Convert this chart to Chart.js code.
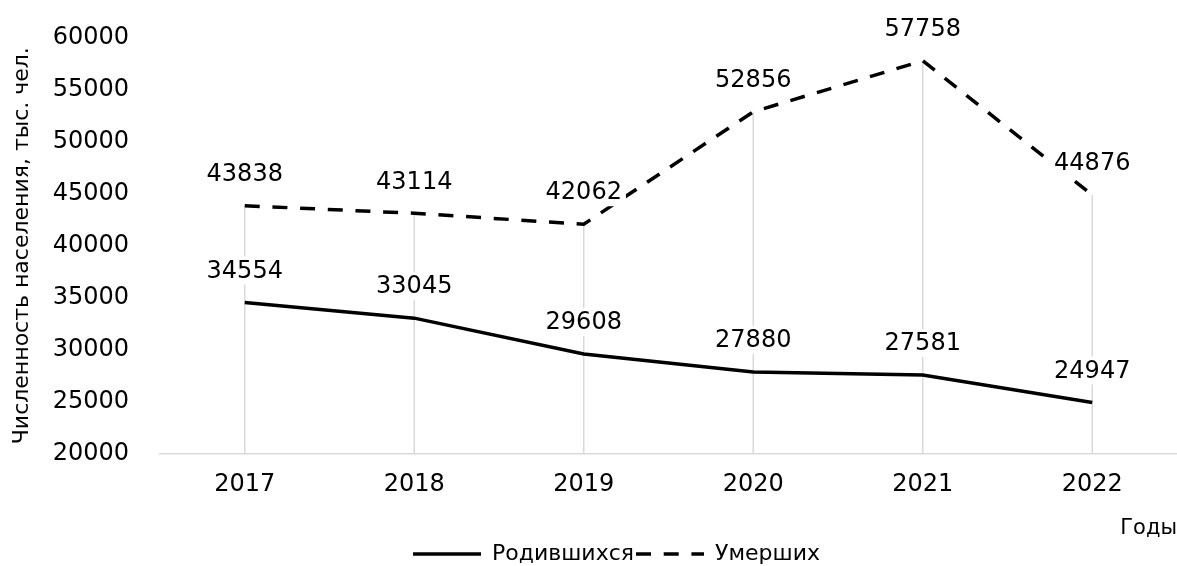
<!DOCTYPE html>
<html>
<head>
<meta charset="utf-8">
<script src="https://cdn.jsdelivr.net/npm/chart.js@4/dist/chart.umd.min.js"></script>
<style>
  html, body { margin: 0; padding: 0; background: #fff; }
  #wrap { width: 1177px; height: 566px; }
</style>
</head>
<body>
<div id="wrap"><canvas id="chartNaselenie"></canvas></div>
<script>
const YEARS = ['2017', '2018', '2019', '2020', '2021', '2022'];
const RODIVSHIHSYA = [34554, 33045, 29608, 27880, 27581, 24947];
const UMERSHIH = [43838, 43114, 42062, 52856, 57758, 44876];

const FONT = 'DejaVu Sans';
const DASH = [15, 12.7];

// вертикальные линии от оси до верхней точки
const dropLines = {
  id: 'dropLines',
  beforeDatasetsDraw(chart) {
    const ctx = chart.ctx;
    const x = chart.scales.x;
    const y = chart.scales.y;
    ctx.save();
    ctx.strokeStyle = '#d9d9d9';
    ctx.lineWidth = 1.5;
    YEARS.forEach((yr, i) => {
      const top = Math.max(RODIVSHIHSYA[i], UMERSHIH[i]);
      const px = x.getPixelForValue(i);
      ctx.beginPath();
      ctx.moveTo(px, y.getPixelForValue(top));
      ctx.lineTo(px, y.bottom);
      ctx.stroke();
    });
    ctx.restore();
  }
};

// подписи значений над точками
const valueLabels = {
  id: 'valueLabels',
  afterDatasetsDraw(chart) {
    const ctx = chart.ctx;
    ctx.save();
    ctx.font = '24px ' + FONT;
    ctx.textAlign = 'center';
    ctx.textBaseline = 'middle';
    chart.data.datasets.forEach((ds, di) => {
      const meta = chart.getDatasetMeta(di);
      meta.data.forEach((pt, i) => {
        const txt = String(ds.data[i]);
        const w = ctx.measureText(txt).width;
        const cy = pt.y - 32;
        ctx.fillStyle = '#fff';
        ctx.fillRect(pt.x - w / 2 - 4, cy - 14, w + 8, 28);
        ctx.fillStyle = '#000';
        ctx.fillText(txt, pt.x, cy + 1);
      });
    });
    ctx.restore();
  }
};

// легенда чуть правее и ниже, как в оригинале
const legendShift = {
  id: 'legendShift',
  afterLayout(chart) {
    chart.legend.left += 28;
    chart.legend.right += 28;
    chart.legend.top += 9;
    chart.legend.bottom += 9;
  }
};

new Chart(document.getElementById('chartNaselenie'), {
  type: 'line',
  data: {
    labels: YEARS,
    datasets: [
      {
        label: 'Родившихся',
        data: RODIVSHIHSYA,
        borderColor: '#000',
        backgroundColor: '#000',
        borderWidth: 3.5,
        pointRadius: 0,
        tension: 0,
      },
      {
        label: 'Умерших',
        data: UMERSHIH,
        borderColor: '#000',
        backgroundColor: '#000',
        borderWidth: 3.5,
        borderDash: DASH,
        pointRadius: 0,
        tension: 0,
      },
    ],
  },
  options: {
    responsive: true,
    maintainAspectRatio: false,
    animation: false,
    layout: { padding: { top: 33, right: 0, left: 0, bottom: 0 } },
    scales: {
      x: {
        offset: true,
        grid: { display: false },
        border: { display: true, color: '#d9d9d9', width: 1.5 },
        ticks: { color: '#000', font: { family: FONT, size: 24 }, padding: 8 },
        title: {
          display: true,
          text: 'Годы',
          align: 'end',
          color: '#000',
          font: { family: FONT, size: 21 },
          padding: { top: 9, bottom: -9 },
        },
      },
      y: {
        min: 20000,
        max: 60000,
        grid: { display: false },
        border: { display: false },
        ticks: {
          stepSize: 5000,
          color: '#000',
          font: { family: FONT, size: 24 },
          padding: 23,
          callback: v => String(v),
        },
        title: {
          display: true,
          text: 'Численность населения, тыс. чел.',
          color: '#000',
          font: { family: FONT, size: 22 },
          padding: { top: 9, bottom: 0 },
        },
        afterFit(scale) {
          scale.width = 160;
        },
      },
    },
    plugins: {
      legend: {
        position: 'bottom',
        labels: {
          usePointStyle: true,
          pointStyle: 'line',
          pointStyleWidth: 68,
          color: '#000',
          font: { family: FONT, size: 22 },
          padding: 2,
          generateLabels(chart) {
            const items = Chart.defaults.plugins.legend.labels.generateLabels(chart);
            items.forEach(it => {
              const ds = chart.data.datasets[it.datasetIndex];
              it.lineDash = ds.borderDash || [];
              it.lineWidth = ds.borderWidth;
            });
            return items;
          },
        },
      },
      tooltip: { enabled: false },
    },
  },
  plugins: [dropLines, valueLabels, legendShift],
});
</script>
</body>
</html>
